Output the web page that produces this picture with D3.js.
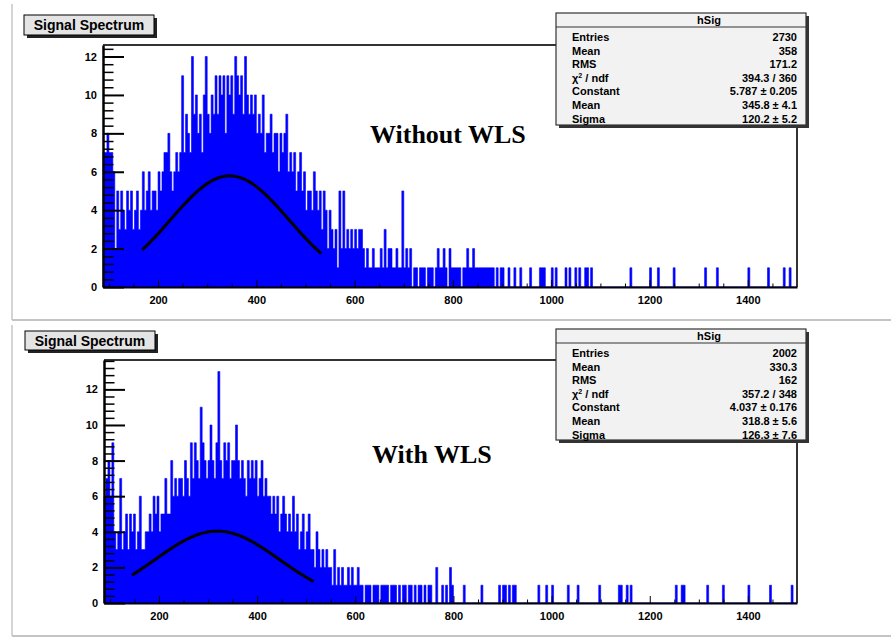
<!DOCTYPE html>
<html>
<head>
<meta charset="utf-8">
<script src="https://cdn.jsdelivr.net/npm/d3@7"></script>
<style>
  body { margin: 0; background: #fff; }
  svg { display: block; }
  .tick text { font-family: "Liberation Sans", Arial, sans-serif; font-weight: bold; font-size: 11px; fill: #000; }
  .axis path, .axis line { stroke: #000; }
</style>
</head>
<body>
<svg id="chart" width="891" height="639"></svg>
<script>
// histogram binning (both spectra use the same binning)
const xMin = 88, xMax = 1500, binWidth = 4;

// counts per bin, "Without WLS"
const countsTop = [
  7,7,8,7,7,6,2,5,3,5,4,3,5,4,5,3,4,5,3,4,
  6,4,5,6,4,5,5,4,6,5,6,7,7,8,6,5,6,7,6,7,
  11,7,9,8,7,12,9,10,8,9,7,10,12,9,8,10,9,11,9,11,
  10,11,8,11,10,11,9,12,11,10,11,9,12,10,9,10,9,10,8,9,
  8,10,7,8,8,9,7,8,8,6,8,7,8,9,6,7,6,7,5,6,
  7,5,6,4,5,5,4,6,5,4,5,3,5,4,2,4,3,2,3,1,
  5,2,5,2,3,2,3,2,3,2,3,3,2,1,2,1,1,2,1,1,
  1,2,1,3,1,2,2,1,1,2,1,1,5,1,2,1,2,0,1,1,
  0,1,1,1,0,1,1,1,0,1,2,1,1,2,1,0,2,1,1,1,
  1,1,0,1,1,2,1,1,2,1,1,1,1,1,1,1,1,1,1,0,
  1,0,1,1,0,0,1,0,0,1,0,0,1,0,0,0,0,1,0,0,
  0,0,1,1,1,0,0,0,1,0,1,0,0,0,0,1,0,1,0,0,
  1,0,1,0,0,1,1,0,1,0,0,0,0,0,0,0,0,0,0,0,
  0,0,0,0,0,0,0,0,1,0,0,0,0,0,0,0,0,0,1,0,
  0,0,1,0,0,0,0,0,0,0,1,0,0,0,0,0,0,0,0,0,
  0,0,0,0,0,0,1,0,0,0,0,0,1,0,0,0,0,0,0,0,
  0,0,0,0,0,0,0,0,1,0,0,0,0,0,0,0,0,0,1,0,
  0,0,0,0,0,0,1,0,0,1,0,0,0
];

// counts per bin, "With WLS"
const countsBottom = [
  6,7,8,6,9,4,3,4,7,3,4,5,3,5,4,5,3,4,6,3,
  3,4,4,5,4,6,5,6,4,5,5,7,5,5,8,6,7,6,7,7,
  6,8,7,6,9,7,9,8,7,11,9,8,7,8,10,8,7,9,13,8,
  7,9,8,9,7,8,8,10,8,7,8,7,6,8,7,8,7,8,6,7,
  8,6,7,6,6,5,6,5,6,4,5,6,5,4,5,4,6,4,5,3,
  4,5,3,4,5,3,3,2,4,3,2,3,2,3,2,2,1,3,1,2,
  1,2,1,1,2,1,2,1,1,2,1,1,0,1,1,1,0,1,1,1,
  0,1,1,1,1,0,1,1,1,0,1,0,1,1,0,1,1,0,1,0,
  1,1,0,1,0,1,1,0,0,2,0,0,1,0,1,0,2,1,0,0,
  0,0,0,1,0,0,0,0,0,0,0,0,1,0,0,0,0,0,0,0,
  0,1,0,1,1,0,1,0,1,1,0,0,0,0,0,0,0,0,0,0,
  0,1,0,0,0,1,0,0,1,0,0,0,0,0,0,0,1,0,0,0,
  0,1,0,0,0,0,0,0,0,0,0,0,1,0,0,0,0,0,0,0,
  0,0,1,1,0,0,1,0,1,0,0,0,0,0,0,0,0,0,0,0,
  0,0,0,0,0,0,0,0,0,0,0,1,0,0,1,1,0,0,0,0,
  0,0,0,0,0,0,0,1,0,0,0,0,0,0,0,1,0,0,0,0,
  0,0,0,0,0,0,0,0,1,0,0,0,0,0,0,0,0,0,0,1,
  0,0,0,0,0,0,0,0,0,0,1,0,0
];

// gaussian fit: [constant, mean, sigma], fit range
const fitTop = [5.787, 345.8, 120.2];
const fitRangeTop = [168, 533];
const fitBottom = [4.037, 318.8, 126.3];
const fitRangeBottom = [145, 515];

// stats boxes
const statLabels = ["Entries", "Mean", "RMS", "chi2", "Constant", "Mean", "Sigma"];
const statValuesTop = ["2730", "358", "171.2", "394.3 / 360", "5.787 \u00b1 0.205", "345.8 \u00b1 4.1", "120.2 \u00b1 5.2"];
const statValuesBottom = ["2002", "330.3", "162", "357.2 / 348", "4.037 \u00b1 0.176", "318.8 \u00b1 5.6", "126.3 \u00b1 7.6"];

const xTickValues = [200, 400, 600, 800, 1000, 1200, 1400];
const yTicksTop = [0, 2, 4, 6, 8, 10, 12];
const yTicksBottom = [0, 2, 4, 6, 8, 10, 12];

const svg = d3.select("#chart");

// pad edges
function padEdges(x0, y0, x1, y1) {
  svg.append("path").attr("d", `M${x0},${y0}V${y1}`).attr("stroke", "#d4d4d4").attr("stroke-width", 2).attr("fill", "none");
  svg.append("path").attr("d", `M${x0},${y1}H${x1}`).attr("stroke", "#c4c4c4").attr("stroke-width", 2).attr("fill", "none");
}
padEdges(12, 4, 891, 320);
padEdges(12, 325, 891, 636);

function drawPanel(opt) {
  const g = svg.append("g");
  const x = d3.scaleLinear().domain([xMin, xMax]).range([opt.left, opt.right]);
  const y = d3.scaleLinear().domain([0, opt.yMax]).range([opt.bottom, opt.top]);

  // histogram as one filled step outline
  const steps = opt.counts.map((c, i) => ({ x0: xMin + i * binWidth, c }));
  steps.push({ x0: xMin + opt.counts.length * binWidth, c: 0 });
  const area = d3.area()
    .x(d => x(d.x0))
    .y0(y(0))
    .y1(d => y(d.c))
    .curve(d3.curveStepAfter);
  g.append("path").datum(steps).attr("d", area)
    .attr("fill", "#0000ff").attr("stroke", "#0000ff").attr("stroke-width", 0.6);

  // fit curve
  const [c, mu, sig] = opt.fit;
  const pts = d3.range(opt.fitRange[0], opt.fitRange[1] + 0.1, 2);
  const line = d3.line()
    .x(v => x(v))
    .y(v => y(c * Math.exp(-0.5 * ((v - mu) / sig) ** 2)))
    .curve(d3.curveBasis);
  g.append("path").datum(pts).attr("d", line)
    .attr("fill", "none").attr("stroke", "#000").attr("stroke-width", 3);

  // frame top and right
  g.append("path")
    .attr("d", `M${opt.left},${opt.top}H${opt.right}V${opt.bottom}`)
    .attr("fill", "none").attr("stroke", "#333").attr("stroke-width", 2);

  // x axis: ticks point into the frame
  const xMinor = d3.range(100, 1500, 50).filter(v => v % 200 !== 0);
  g.append("g").attr("class", "axis")
    .attr("transform", `translate(0,${opt.bottom})`)
    .call(d3.axisBottom(x).tickValues(xMinor).tickSize(-3.5).tickFormat("").tickSizeOuter(0))
    .call(a => a.select(".domain").remove());
  g.append("g").attr("class", "axis")
    .attr("transform", `translate(0,${opt.bottom})`)
    .call(d3.axisBottom(x).tickValues(xTickValues).tickSize(-7).tickPadding(9).tickSizeOuter(0).tickFormat(d3.format("d")))
    .call(a => a.select(".domain").attr("stroke-width", 2));

  // y axis
  const yMinor = d3.range(0, opt.yMax, 0.4).filter(v => Math.abs(v / 2 - Math.round(v / 2)) > 0.01);
  g.append("g").attr("class", "axis")
    .attr("transform", `translate(${opt.left},0)`)
    .call(d3.axisLeft(y).tickValues(yMinor).tickSize(-10.5).tickFormat("").tickSizeOuter(0))
    .call(a => a.select(".domain").remove())
    .selectAll("line").attr("stroke-width", 1.5);
  g.append("g").attr("class", "axis")
    .attr("transform", `translate(${opt.left},0)`)
    .call(d3.axisLeft(y).tickValues(opt.yTicks).tickSize(-21).tickPadding(6).tickSizeOuter(0))
    .call(a => a.select(".domain").attr("stroke-width", 2.5))
    .call(a => a.selectAll("line").attr("stroke-width", 2));

  // title box
  const tb = opt.titleBox;
  g.append("rect").attr("x", tb[0] + 3).attr("y", tb[1] + 3).attr("width", tb[2]).attr("height", tb[3]).attr("fill", "#222");
  g.append("rect").attr("x", tb[0]).attr("y", tb[1]).attr("width", tb[2]).attr("height", tb[3])
    .attr("fill", "#e4e4e4").attr("stroke", "#000").attr("stroke-width", 1);
  g.append("text").attr("x", tb[0] + tb[2] / 2).attr("y", tb[1] + tb[3] / 2 + 5)
    .attr("text-anchor", "middle")
    .style("font-family", "'Liberation Sans', Arial, sans-serif").style("font-weight", "bold").style("font-size", "14px")
    .text("Signal Spectrum");

  // stats box
  const sb = opt.statBox;
  g.append("rect").attr("x", sb[0] + 3).attr("y", sb[1] + 3).attr("width", sb[2]).attr("height", sb[3]).attr("fill", "#333");
  g.append("rect").attr("x", sb[0]).attr("y", sb[1]).attr("width", sb[2]).attr("height", sb[3])
    .attr("fill", "#f2f2f2").attr("stroke", "#333").attr("stroke-width", 1.2);
  g.append("line").attr("x1", sb[0]).attr("x2", sb[0] + sb[2]).attr("y1", sb[1] + 14).attr("y2", sb[1] + 14)
    .attr("stroke", "#333").attr("stroke-width", 1.2);
  const font = t => t.style("font-family", "'Liberation Sans', Arial, sans-serif").style("font-weight", "bold").style("font-size", "11px");
  g.append("text").attr("x", sb[0] + sb[2] / 2 + 28).attr("y", sb[1] + 11)
    .attr("text-anchor", "middle").call(font).text("hSig");
  statLabels.forEach((lab, i) => {
    const yy = sb[1] + 28 + 13.6 * i;
    const t = g.append("text").attr("x", sb[0] + 16).attr("y", yy).call(font);
    if (lab === "chi2") {
      t.append("tspan").text("\u03c7");
      t.append("tspan").attr("dy", -4).style("font-size", "7px").text("2");
      t.append("tspan").attr("dy", 4).text(" / ndf");
    } else {
      t.text(lab);
    }
    g.append("text").attr("x", sb[0] + sb[2] - 9).attr("y", yy)
      .attr("text-anchor", "end").call(font).text(opt.statValues[i]);
  });

  // annotation
  g.append("text").attr("x", opt.label[0]).attr("y", opt.label[1])
    .style("font-family", "'Liberation Serif', 'Times New Roman', serif").style("font-weight", "bold").style("font-size", "26px")
    .text(opt.label[2]);
}

drawPanel({
  left: 103, right: 797, top: 45, bottom: 287, yMax: 12.6,
  counts: countsTop, fit: fitTop, fitRange: fitRangeTop, yTicks: yTicksTop,
  titleBox: [24, 15, 130, 20], statBox: [556, 13, 250, 112],
  statValues: statValuesTop, label: [370, 143, "Without WLS"]
});

drawPanel({
  left: 104, right: 797, top: 360, bottom: 603, yMax: 13.65,
  counts: countsBottom, fit: fitBottom, fitRange: fitRangeBottom, yTicks: yTicksBottom,
  titleBox: [25, 331, 130, 19], statBox: [556, 329, 250, 111],
  statValues: statValuesBottom, label: [372, 463, "With WLS"]
});
</script>
</body>
</html>
